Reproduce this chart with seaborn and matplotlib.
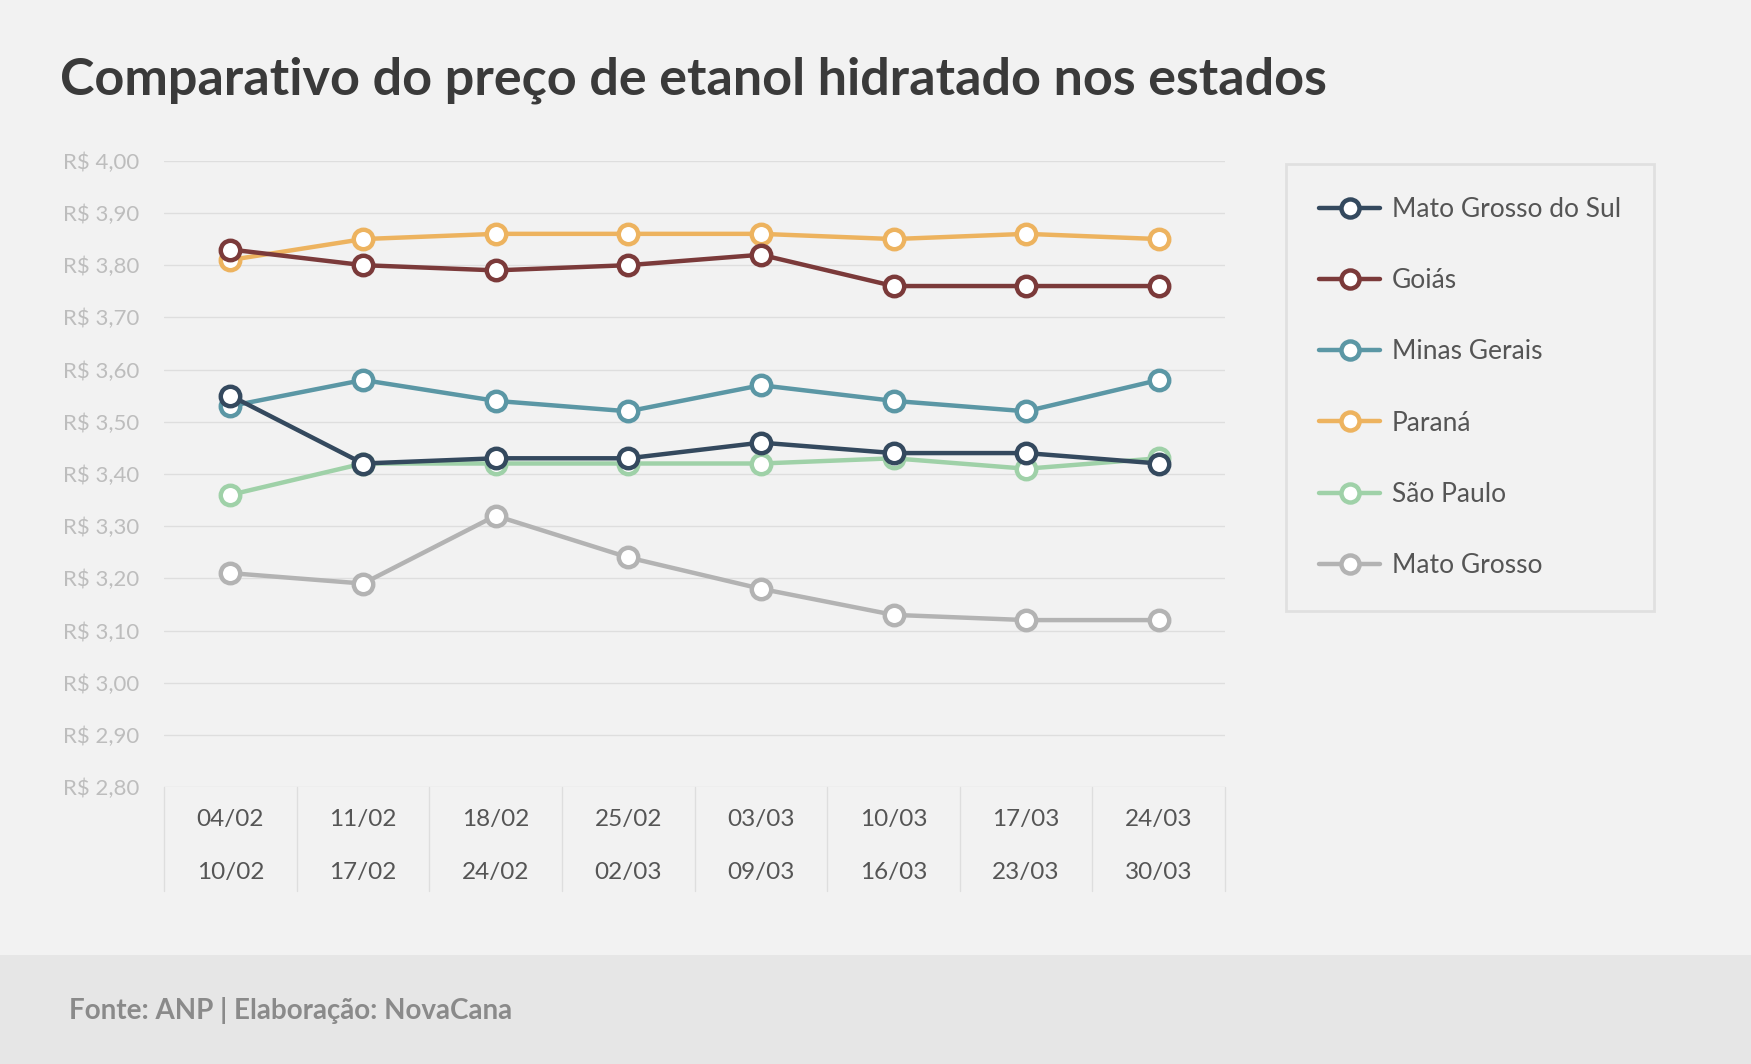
import matplotlib
matplotlib.use("Agg")
import matplotlib.pyplot as plt
import seaborn as sns
import pandas as pd
from matplotlib.lines import Line2D
from matplotlib.patches import Rectangle

weeks_start = ["04/02", "11/02", "18/02", "25/02", "03/03", "10/03", "17/03", "24/03"]
weeks_end = ["10/02", "17/02", "24/02", "02/03", "09/03", "16/03", "23/03", "30/03"]
states = ["Mato Grosso do Sul", "Goiás", "Minas Gerais", "Paraná", "São Paulo", "Mato Grosso"]
ms = [3.55, 3.42, 3.43, 3.43, 3.46, 3.44, 3.44, 3.42]
go = [3.83, 3.80, 3.79, 3.80, 3.82, 3.76, 3.76, 3.76]
mg = [3.53, 3.58, 3.54, 3.52, 3.57, 3.54, 3.52, 3.58]
pr = [3.81, 3.85, 3.86, 3.86, 3.86, 3.85, 3.86, 3.85]
sp = [3.36, 3.42, 3.42, 3.42, 3.42, 3.43, 3.41, 3.43]
mt = [3.21, 3.19, 3.32, 3.24, 3.18, 3.13, 3.12, 3.12]
colors = ["#34495e", "#7b3a3a", "#5b97a5", "#edb35f", "#9fd1a8", "#b3b3b3"]
yticks = [2.8, 2.9, 3.0, 3.1, 3.2, 3.3, 3.4, 3.5, 3.6, 3.7, 3.8, 3.9, 4.0]

rows = []
for st, vals in zip(states, [ms, go, mg, pr, sp, mt]):
    for i, v in enumerate(vals):
        rows.append({"x": i, "estado": st, "preco": v})
df = pd.DataFrame(rows)

sns.set_theme(style="white")
plt.rcParams["font.family"] = ["Lato", "DejaVu Sans"]
W, H = 1568, 953
fig = plt.figure(figsize=(17.51, 10.64), dpi=100, facecolor="#f2f2f2")
fig.patches.append(Rectangle((0, 0), 1, 1 - 855 / H, transform=fig.transFigure,
                             facecolor="#e6e6e6", edgecolor="none", zorder=0))
ax = fig.add_axes([147 / W, 1 - 705 / H, (1097 - 147) / W, (705 - 144) / H])
ax.set_facecolor("#f2f2f2")

for st, c in list(zip(states, colors))[::-1]:
    sub = df[df.estado == st]
    sns.lineplot(data=sub, x="x", y="preco", ax=ax, color=c, lw=3.2, marker="o",
                 markersize=14, markerfacecolor="white", markeredgecolor=c,
                 markeredgewidth=3.2, legend=False, zorder=3)

ax.set_xlim(-0.5, 7.5)
ax.set_ylim(2.8, 4.0)
ax.set_yticks(yticks)
ax.set_yticklabels([f"R$ {t:.2f}".replace(".", ",") for t in yticks], color="#bdbdbd", fontsize=16)
ax.tick_params(axis="y", length=0, pad=18)
for y in yticks:
    ax.axhline(y, color="#dedede", lw=1, zorder=1)
ax.set_xticks(range(8))
ax.set_xticklabels([f"{a}\n\n{b}" for a, b in zip(weeks_start, weeks_end)],
                   color="#555555", fontsize=17.5, linespacing=1.3)
ax.tick_params(axis="x", length=0, pad=16)
for b in [i - 0.5 for i in range(9)]:
    ax.plot([b, b], [0, -0.166], transform=ax.get_xaxis_transform(), color="#dedede",
            lw=1, clip_on=False)
for s in ax.spines.values():
    s.set_visible(False)
ax.set_xlabel("")
ax.set_ylabel("")

handles = [Line2D([0], [0], color=c, lw=3.2, marker="o", markersize=13,
                  markerfacecolor="white", markeredgecolor=c, markeredgewidth=3.2)
           for c in colors]
leg = fig.legend(handles, states, loc="upper left",
                 bbox_to_anchor=(1152 / W, 1 - 147 / H), frameon=True, fontsize=19,
                 labelcolor="#555555", handlelength=2.3, labelspacing=1.75,
                 borderpad=1.25, handletextpad=0.45, borderaxespad=0, fancybox=False)
leg.get_frame().set_facecolor("#f2f2f2")
leg.get_frame().set_edgecolor("#dcdcdc")
leg.get_frame().set_linewidth(2)

fig.text(54 / W, 1 - 72 / H, "Comparativo do preço de etanol hidratado nos estados",
         fontsize=37.5, fontweight="bold", color="#3a3a3a", va="center")
fig.text(62 / W, 1 - 905 / H, "Fonte: ANP | Elaboração: NovaCana",
         fontsize=20, fontweight="bold", color="#8a8a8a", va="center")

fig.savefig("out.png", dpi=100, facecolor=fig.get_facecolor())
